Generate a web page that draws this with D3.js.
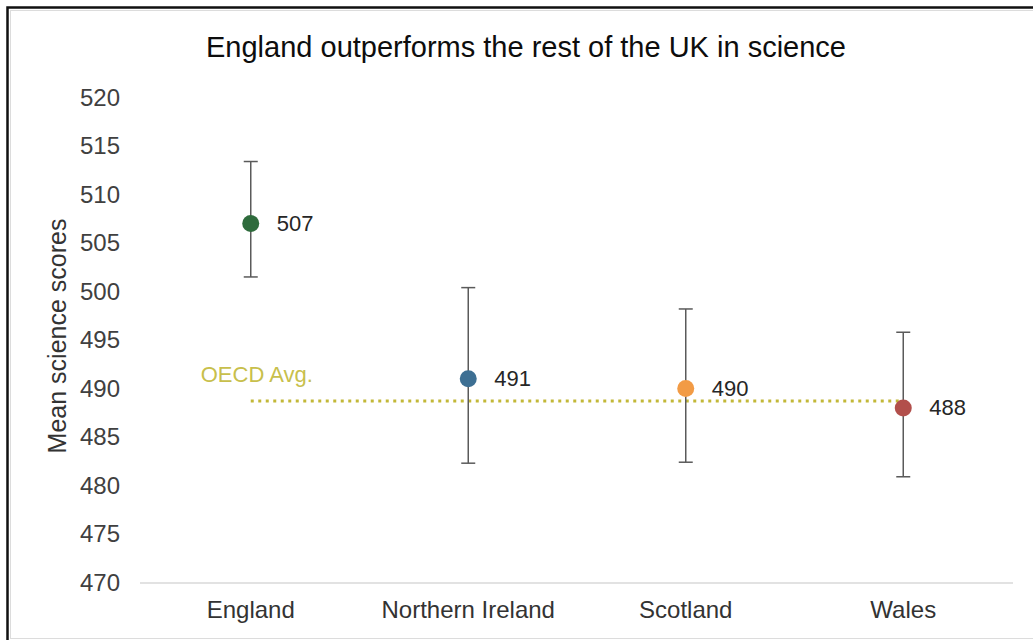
<!DOCTYPE html>
<html>
<head>
<meta charset="utf-8">
<script src="https://cdn.jsdelivr.net/npm/d3@7"></script>
<style>
  html, body { margin: 0; padding: 0; background: #fff; }
  svg { display: block; font-family: "Liberation Sans", Arial, sans-serif; }
</style>
</head>
<body>
<svg id="chart" width="1033" height="640"></svg>
<script>
// Mean science scores by UK nation, with confidence intervals
const regions = ["England", "Northern Ireland", "Scotland", "Wales"];
const meanScores = [507, 491, 490, 488];
const lowerBounds = [501.5, 482.3, 482.4, 480.9];
const upperBounds = [513.4, 500.4, 498.2, 495.8];
const dotColors = ["#2e6b3c", "#3d6f93", "#f29b45", "#b24f4b"];
const yTicks = [470, 475, 480, 485, 490, 495, 500, 505, 510, 515, 520];
const oecdAverage = 488.7;

const svg = d3.select("#chart");
const W = 1033, H = 640;

// Frame around the chart
svg.append("rect")
  .attr("x", 10.5).attr("y", 10.5)
  .attr("width", W).attr("height", H - 12)
  .attr("fill", "none").attr("stroke", "#dcdcdc").attr("stroke-width", 1);
svg.append("path")
  .attr("d", `M7.5,${H} L7.5,7.5 L${W},7.5`)
  .attr("fill", "none").attr("stroke", "#111").attr("stroke-width", 2.5);

const plot = { left: 142, right: 1012, top: 97.5, bottom: 582.5 };

const x = d3.scaleBand()
  .domain(regions)
  .range([plot.left, plot.right]);

const y = d3.scaleLinear()
  .domain([470, 520])
  .range([plot.bottom, plot.top]);

// Title
svg.append("text")
  .attr("x", 526).attr("y", 47)
  .attr("text-anchor", "middle").attr("dominant-baseline", "central")
  .attr("font-size", 29).attr("fill", "#0d0d0d")
  .text("England outperforms the rest of the UK in science");

// Y axis (labels only)
const yAxis = d3.axisLeft(y).tickValues(yTicks).tickSize(0).tickPadding(0);
const gy = svg.append("g")
  .attr("transform", "translate(120,0)")
  .call(yAxis);
gy.select(".domain").remove();
gy.selectAll("text")
  .attr("font-size", 24).attr("fill", "#404040")
  .attr("font-family", "Liberation Sans, Arial, sans-serif");

// Y axis title
svg.append("text")
  .attr("transform", `translate(57,${336}) rotate(-90)`)
  .attr("text-anchor", "middle").attr("dominant-baseline", "central")
  .attr("font-size", 25).attr("fill", "#333")
  .text("Mean science scores");

// X axis: baseline plus category labels
const xAxis = d3.axisBottom(x).tickSize(0).tickPadding(0);
const gx = svg.append("g")
  .attr("transform", `translate(0,${plot.bottom})`)
  .call(xAxis);
gx.select(".domain")
  .attr("stroke", "#d9d9d9").attr("stroke-width", 1.5)
  .attr("d", `M${plot.left - 2},0.5H${plot.right + 1}`);
gx.selectAll("text")
  .attr("y", 27).attr("dy", 0)
  .attr("dominant-baseline", "central")
  .attr("font-size", 24).attr("fill", "#333")
  .attr("font-family", "Liberation Sans, Arial, sans-serif");

const cx = d => x(d) + x.bandwidth() / 2;

// OECD average reference line
svg.append("line")
  .attr("x1", cx(regions[0])).attr("x2", cx(regions[regions.length - 1]))
  .attr("y1", y(oecdAverage)).attr("y2", y(oecdAverage))
  .attr("stroke", "#c2b838").attr("stroke-width", 3)
  .attr("stroke-dasharray", "3,4.5");
svg.append("text")
  .attr("x", cx(regions[0]) - 50).attr("y", y(oecdAverage) - 27)
  .attr("dominant-baseline", "central")
  .attr("font-size", 22).attr("fill", "#c8bf4c")
  .text("OECD Avg.");

const data = regions.map((r, i) => ({
  region: r, mean: meanScores[i], lo: lowerBounds[i], hi: upperBounds[i], color: dotColors[i]
}));

// Error bars
const eb = svg.append("g").attr("stroke", "#5a5a5a").attr("stroke-width", 1.5);
data.forEach(d => {
  const px = cx(d.region);
  eb.append("line").attr("x1", px).attr("x2", px).attr("y1", y(d.lo)).attr("y2", y(d.hi));
  eb.append("line").attr("x1", px - 7).attr("x2", px + 7).attr("y1", y(d.lo)).attr("y2", y(d.lo));
  eb.append("line").attr("x1", px - 7).attr("x2", px + 7).attr("y1", y(d.hi)).attr("y2", y(d.hi));
});

// Points
svg.append("g").selectAll("circle")
  .data(data).join("circle")
  .attr("cx", d => cx(d.region))
  .attr("cy", d => y(d.mean))
  .attr("r", 8.5)
  .attr("fill", d => d.color);

// Value labels
svg.append("g").selectAll("text")
  .data(data).join("text")
  .attr("x", d => cx(d.region) + 26)
  .attr("y", d => y(d.mean))
  .attr("dominant-baseline", "central")
  .attr("font-size", 22).attr("fill", "#262626")
  .text(d => d3.format("d")(d.mean));
</script>
</body>
</html>
